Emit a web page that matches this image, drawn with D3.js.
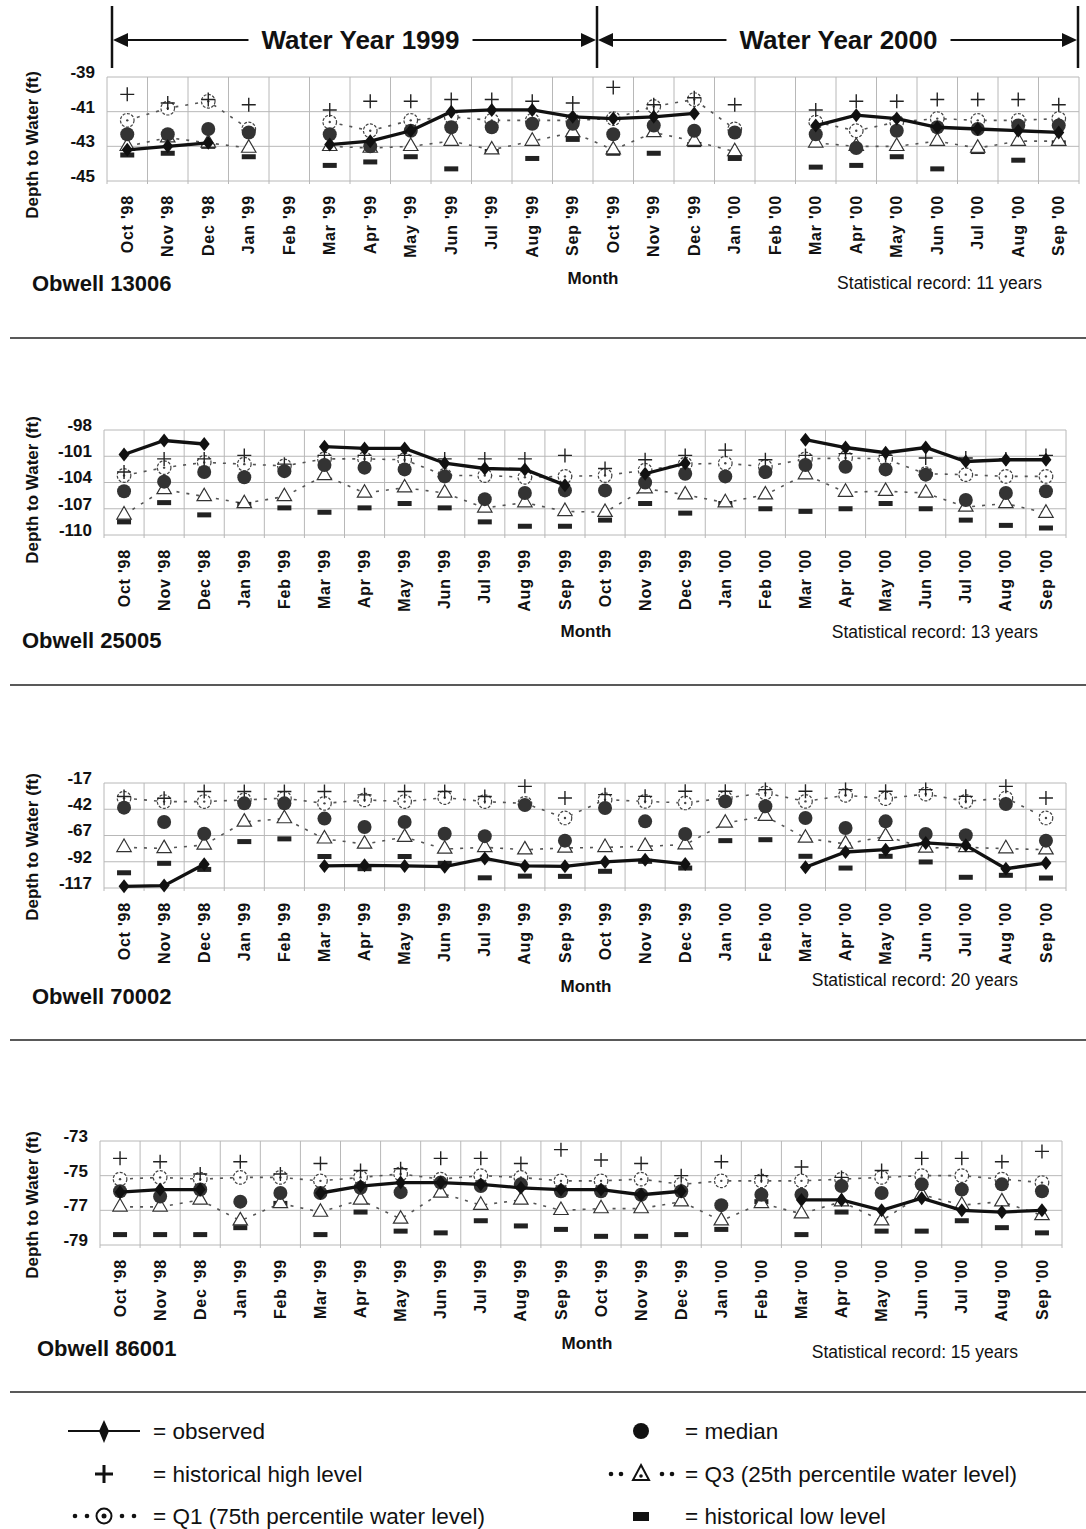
<!DOCTYPE html>
<html>
<head>
<meta charset="utf-8">
<script src="https://cdn.jsdelivr.net/npm/d3@7"></script>
<style>
  body { margin: 0; background: #fff; }
  svg text { font-family: "Liberation Sans", Arial, sans-serif; fill: #111; }
</style>
</head>
<body>
<svg id="chart" width="1086" height="1529"></svg>
<script>
var svgWidth = 1086;
var svgHeight = 1529;

var months = ["Oct '98", "Nov '98", "Dec '98", "Jan '99", "Feb '99", "Mar '99", "Apr '99", "May '99",
  "Jun '99", "Jul '99", "Aug '99", "Sep '99", "Oct '99", "Nov '99", "Dec '99", "Jan '00", "Feb '00",
  "Mar '00", "Apr '00", "May '00", "Jun '00", "Jul '00", "Aug '00", "Sep '00"];

var waterYears = ["Water Year 1999", "Water Year 2000"];

// Obwell 13006
var obs13006 = [-43.2, -43.0, -42.8, null, null, -42.9, -42.7, -42.1, -41.0, -40.9, -40.9, -41.3, -41.4, -41.3, -41.1, null, null, -41.8, -41.2, -41.4, -41.9, -42.0, -42.1, -42.2];
var high13006 = [-40.0, -40.5, -40.3, -40.6, null, -40.9, -40.4, -40.4, -40.3, -40.3, -40.4, -40.5, -39.6, -40.6, -40.2, -40.6, null, -40.9, -40.4, -40.4, -40.3, -40.3, -40.3, -40.6];
var q1_13006 = [-41.5, -40.8, -40.4, -42.0, null, -41.6, -42.1, -41.5, -41.3, -41.5, -41.5, -41.5, -41.4, -40.7, -40.3, -42.0, null, -41.6, -42.1, -41.6, -41.4, -41.5, -41.5, -41.4];
var med13006 = [-42.3, -42.3, -42.0, -42.2, null, -42.3, -43.0, -42.1, -41.9, -41.9, -41.7, -41.7, -42.3, -41.8, -42.1, -42.2, null, -42.3, -43.1, -42.1, -41.9, -42.0, -41.8, -41.8];
var q3_13006 = [-43.0, -42.5, -42.8, -43.1, null, -43.0, -43.1, -43.0, -42.7, -43.2, -42.7, -42.2, -43.2, -42.2, -42.7, -43.3, null, -42.8, -43.0, -43.0, -42.7, -43.1, -42.7, -42.7];
var low13006 = [-43.5, -43.4, -43.0, -43.6, null, -44.1, -43.9, -43.6, -44.3, -43.3, -43.7, -42.6, -43.4, -43.4, -42.9, -43.7, null, -44.2, -44.1, -43.6, -44.3, -43.3, -43.8, -42.8];

// Obwell 25005
var obs25005 = [-100.8, -99.2, -99.6, null, null, -99.9, -100.1, -100.1, -101.8, -102.4, -102.5, -104.3, null, -103.0, -101.8, null, null, -99.1, -100.0, -100.6, -100.0, -101.6, -101.4, -101.4];
var high25005 = [-102.8, -101.3, -101.3, -100.9, -101.9, -100.9, -100.9, -100.9, -101.3, -101.3, -101.3, -100.9, -102.4, -101.4, -100.9, -100.3, -101.4, -100.9, -100.7, -100.9, -101.2, -101.2, -101.3, -100.9];
var q1_25005 = [-103.2, -102.3, -101.7, -101.9, -102.1, -101.3, -101.3, -101.4, -103.2, -103.2, -103.4, -103.3, -103.2, -102.6, -101.9, -101.8, -102.2, -101.3, -101.2, -101.3, -103.0, -103.1, -103.3, -103.3];
var med25005 = [-105.0, -103.9, -102.8, -103.4, -102.7, -102.0, -102.3, -102.5, -103.3, -105.9, -105.2, -104.9, -104.9, -104.0, -103.0, -103.3, -102.8, -102.0, -102.2, -102.5, -103.1, -106.0, -105.2, -105.0];
var q3_25005 = [-107.7, -104.8, -105.6, -106.4, -105.6, -103.2, -105.2, -104.6, -105.2, -106.9, -106.3, -107.3, -107.4, -104.7, -105.4, -106.3, -105.4, -103.1, -105.1, -105.0, -105.2, -106.8, -106.4, -107.5];
var low25005 = [-108.5, -106.3, -107.7, -106.5, -106.9, -107.4, -106.9, -106.4, -106.9, -108.5, -109.0, -109.0, -108.3, -106.4, -107.5, -106.4, -107.0, -107.3, -107.0, -106.4, -107.0, -108.3, -108.9, -109.2];

// Obwell 70002
var obs70002 = [-115.4, -114.7, -94.4, null, null, -96.0, -95.4, -96.0, -96.7, -88.9, -96.0, -96.4, -92.2, -90.0, -94.1, null, null, -97.3, -82.7, -80.5, -74.1, -76.4, -98.6, -93.2];
var high70002 = [-29.9, -31.5, -25.1, -25.1, -25.1, -25.1, -28.3, -25.1, -25.1, -29.9, -20.2, -31.3, -28.1, -29.7, -24.9, -24.9, -23.3, -24.9, -23.3, -24.9, -23.3, -29.7, -20.2, -31.3];
var q1_70002 = [-31.5, -34.7, -34.7, -33.1, -31.5, -36.4, -33.1, -34.7, -30.9, -34.7, -36.4, -50.3, -32.9, -34.5, -36.0, -31.3, -26.5, -34.5, -28.7, -31.9, -27.5, -34.5, -31.3, -50.3];
var med70002 = [-40.5, -54.1, -65.4, -36.4, -36.4, -50.9, -58.9, -54.1, -65.4, -67.6, -38.0, -71.9, -40.8, -53.5, -65.6, -34.5, -39.2, -50.3, -59.9, -53.5, -65.6, -66.8, -37.0, -71.9];
var q3_70002 = [-78.3, -79.3, -76.0, -54.1, -50.9, -70.2, -75.1, -68.6, -79.9, -78.3, -80.5, -78.9, -78.3, -77.3, -75.7, -55.1, -48.7, -69.4, -75.1, -67.8, -78.9, -78.3, -79.5, -80.5];
var low70002 = [-102.5, -93.5, -99.3, -72.8, -70.2, -87.0, -98.6, -87.0, -93.5, -107.3, -105.7, -105.9, -101.1, -91.6, -98.0, -71.9, -71.0, -86.8, -98.0, -86.8, -92.2, -106.8, -104.9, -107.5];

// Obwell 86001
var obs86001 = [-75.95, -75.8, -75.8, null, null, -76.0, -75.6, -75.4, -75.4, -75.5, -75.7, -75.8, -75.8, -76.1, -75.9, null, null, -76.4, -76.4, -77.0, -76.3, -77.0, -77.1, -77.0];
var high86001 = [-74.0, -74.2, -74.9, -74.2, -74.9, -74.3, -74.7, -74.6, -74.0, -74.0, -74.3, -73.5, -74.1, -74.3, -75.0, -74.2, -75.0, -74.5, -75.1, -74.7, -74.0, -74.0, -74.2, -73.6];
var q1_86001 = [-75.2, -75.1, -75.2, -75.1, -75.1, -75.3, -75.1, -74.9, -75.2, -75.0, -75.1, -75.3, -75.3, -75.2, -75.5, -75.3, -75.3, -75.3, -75.2, -75.1, -75.0, -75.0, -75.2, -75.4];
var med86001 = [-75.9, -76.2, -75.8, -76.5, -76.0, -76.0, -75.7, -75.95, -75.4, -75.6, -75.5, -75.9, -75.9, -76.1, -75.9, -76.7, -76.1, -76.1, -75.6, -76.0, -75.5, -75.8, -75.5, -75.9];
var q3_86001 = [-76.8, -76.8, -76.4, -77.6, -76.6, -77.1, -76.4, -77.5, -76.0, -76.7, -76.4, -77.0, -76.9, -76.9, -76.5, -77.6, -76.6, -77.2, -76.5, -77.6, -76.1, -76.7, -76.5, -77.3];
var low86001 = [-78.4, -78.4, -78.4, -78.0, -76.6, -78.4, -77.1, -78.2, -78.3, -77.6, -77.9, -78.1, -78.5, -78.5, -78.4, -78.1, -76.5, -78.4, -77.1, -78.2, -78.2, -77.6, -78.0, -78.3];

var ticks13006 = [-39, -41, -43, -45];
var ticks25005 = [-98, -101, -104, -107, -110];
var ticks70002 = [-17, -42, -67, -92, -117];
var ticks86001 = [-73, -75, -77, -79];

// layout of the four panels
var panels = [
  { name: "Obwell 13006", record: "Statistical record: 11 years", ticks: ticks13006,
    obs: obs13006, high: high13006, q1: q1_13006, med: med13006, q3: q3_13006, low: low13006,
    top: 77, bottom: 181, left: 107, right: 1079,
    titleY: 145, monthX: 593, monthY: 284, nameX: 32, nameY: 291, recX: 1042, recY: 289 },
  { name: "Obwell 25005", record: "Statistical record: 13 years", ticks: ticks25005,
    obs: obs25005, high: high25005, q1: q1_25005, med: med25005, q3: q3_25005, low: low25005,
    top: 430, bottom: 535, left: 104, right: 1066,
    titleY: 490, monthX: 586, monthY: 637, nameX: 22, nameY: 648, recX: 1038, recY: 638 },
  { name: "Obwell 70002", record: "Statistical record: 20 years", ticks: ticks70002,
    obs: obs70002, high: high70002, q1: q1_70002, med: med70002, q3: q3_70002, low: low70002,
    top: 783, bottom: 888, left: 104, right: 1066,
    titleY: 847, monthX: 586, monthY: 992, nameX: 32, nameY: 1004, recX: 1018, recY: 986 },
  { name: "Obwell 86001", record: "Statistical record: 15 years", ticks: ticks86001,
    obs: obs86001, high: high86001, q1: q1_86001, med: med86001, q3: q3_86001, low: low86001,
    top: 1141, bottom: 1245, left: 100, right: 1062,
    titleY: 1205, monthX: 587, monthY: 1349, nameX: 37, nameY: 1356, recX: 1018, recY: 1358 }
];

var svg = d3.select("#chart");

function drawPanel(p) {
  var x = d3.scaleBand().domain(months).range([p.left, p.right]);
  var y = d3.scaleLinear()
    .domain([d3.min(p.ticks), d3.max(p.ticks)])
    .range([p.bottom, p.top]);
  var cx = function(i) { return x(months[i]) + x.bandwidth() / 2; };

  var g = svg.append("g");

  // grid
  g.append("g").selectAll("line")
    .data(p.ticks)
    .enter()
    .append("line")
    .attr("x1", p.left).attr("x2", p.right)
    .attr("y1", d => y(d)).attr("y2", d => y(d))
    .attr("stroke", "#b8b8b8").attr("stroke-width", 1);

  var edges = months.map(m => x(m)).concat([p.right]);
  g.append("g").selectAll("line")
    .data(edges)
    .enter()
    .append("line")
    .attr("x1", d => d).attr("x2", d => d)
    .attr("y1", p.top).attr("y2", p.bottom + 3)
    .attr("stroke", "#b8b8b8").attr("stroke-width", 1);

  // y axis
  var leftAxis = d3.axisLeft(y).tickValues(p.ticks).tickSize(0).tickPadding(12).tickFormat(d => String(d));
  var yAxis = g.append("g").attr("transform", `translate(${p.left},0)`).call(leftAxis);
  yAxis.select(".domain").remove();
  yAxis.selectAll("text")
    .attr("font-size", 17).attr("font-weight", "bold")
    .attr("y", -5);

  // x axis, rotated month labels
  var bottomAxis = d3.axisBottom(x).tickSize(0);
  var xAxis = g.append("g").attr("transform", `translate(0,${p.bottom})`).call(bottomAxis);
  xAxis.select(".domain").remove();
  xAxis.selectAll("text")
    .attr("transform", "rotate(-90)")
    .attr("x", -14).attr("y", 0).attr("dy", "0.35em")
    .attr("font-size", 16).attr("font-weight", "bold")
    .attr("letter-spacing", 0.8)
    .style("text-anchor", "end");

  // y title
  g.append("text")
    .attr("transform", `translate(38,${p.titleY}) rotate(-90)`)
    .attr("text-anchor", "middle")
    .attr("font-size", 17).attr("font-weight", "bold")
    .text("Depth to Water (ft)");

  g.append("text").attr("x", p.monthX).attr("y", p.monthY)
    .attr("text-anchor", "middle").attr("font-size", 17).attr("font-weight", "bold")
    .text("Month");
  g.append("text").attr("x", p.nameX).attr("y", p.nameY)
    .attr("font-size", 22).attr("font-weight", "bold")
    .text(p.name);
  g.append("text").attr("x", p.recX).attr("y", p.recY)
    .attr("text-anchor", "end").attr("font-size", 17.5)
    .text(p.record);

  // dotted quartile lines
  var dotted = d3.line()
    .defined(d => d != null)
    .x((d, i) => cx(i))
    .y(d => y(d));
  [p.q1, p.q3].forEach(function(series) {
    g.append("path")
      .attr("d", dotted(series))
      .attr("fill", "none")
      .attr("stroke", "#555")
      .attr("stroke-width", 1.6)
      .attr("stroke-dasharray", "3,7");
  });

  var idx = function(series) {
    return series.map((v, i) => i).filter(i => series[i] != null);
  };

  // historical low
  g.append("g").selectAll("rect")
    .data(idx(p.low))
    .enter()
    .append("rect")
    .attr("x", i => cx(i) - 7).attr("y", i => y(p.low[i]) - 2.5)
    .attr("width", 14).attr("height", 5)
    .attr("fill", "#222");

  // Q3 triangles
  g.append("g").selectAll("path")
    .data(idx(p.q3))
    .enter()
    .append("path")
    .attr("d", d3.symbol().type(d3.symbolTriangle).size(90))
    .attr("transform", i => `translate(${cx(i)},${y(p.q3[i])})`)
    .attr("fill", "#fff").attr("stroke", "#333").attr("stroke-width", 1.2);

  // Q1 circles
  var q1g = g.append("g").selectAll("g")
    .data(idx(p.q1))
    .enter()
    .append("g")
    .attr("transform", i => `translate(${cx(i)},${y(p.q1[i])})`);
  q1g.append("circle").attr("r", 6.8)
    .attr("fill", "#fff").attr("stroke", "#444").attr("stroke-width", 1.2)
    .attr("stroke-dasharray", "3,1.5");
  q1g.append("circle").attr("r", 1.2).attr("fill", "#444");

  // historical high
  g.append("g").selectAll("path")
    .data(idx(p.high))
    .enter()
    .append("path")
    .attr("d", "M-7,0H7M0,-7V7")
    .attr("transform", i => `translate(${cx(i)},${y(p.high[i])})`)
    .attr("stroke", "#222").attr("stroke-width", 1.4);

  // median
  g.append("g").selectAll("circle")
    .data(idx(p.med))
    .enter()
    .append("circle")
    .attr("cx", i => cx(i)).attr("cy", i => y(p.med[i]))
    .attr("r", 7)
    .attr("fill", "#333");

  // observed
  var obsLine = d3.line()
    .defined(d => d != null)
    .x((d, i) => cx(i))
    .y(d => y(d));
  g.append("path")
    .attr("d", obsLine(p.obs))
    .attr("fill", "none")
    .attr("stroke", "#111")
    .attr("stroke-width", 3.3);
  g.append("g").selectAll("path")
    .data(idx(p.obs))
    .enter()
    .append("path")
    .attr("d", "M0,-7L5.5,0L0,7L-5.5,0Z")
    .attr("transform", i => `translate(${cx(i)},${y(p.obs[i])})`)
    .attr("fill", "#111");
}

panels.forEach(drawPanel);

// separators between panels
svg.append("g").selectAll("line")
  .data([338, 685, 1040, 1392])
  .enter()
  .append("line")
  .attr("x1", 10).attr("x2", svgWidth)
  .attr("y1", d => d).attr("y2", d => d)
  .attr("stroke", "#222").attr("stroke-width", 1.6);

// header with water year arrows
var yearEdges = [112, 597, 1078];
var header = svg.append("g");
header.selectAll("line.bar")
  .data(yearEdges)
  .enter()
  .append("line")
  .attr("x1", d => d).attr("x2", d => d)
  .attr("y1", 6).attr("y2", 68)
  .attr("stroke", "#111").attr("stroke-width", 2.5);

waterYears.forEach(function(label, i) {
  var x0 = yearEdges[i], x1 = yearEdges[i + 1];
  var mid = (x0 + x1) / 2 + (i === 0 ? 6 : 1);
  var t = header.append("text")
    .attr("x", mid).attr("y", 40).attr("dy", "0.35em")
    .attr("text-anchor", "middle")
    .attr("font-size", 26).attr("font-weight", "bold")
    .text(label);
  var w = t.node().getComputedTextLength();
  header.append("line").attr("x1", x0 + 4).attr("x2", mid - w / 2 - 13)
    .attr("y1", 40).attr("y2", 40).attr("stroke", "#111").attr("stroke-width", 2);
  header.append("line").attr("x1", mid + w / 2 + 13).attr("x2", x1 - 4)
    .attr("y1", 40).attr("y2", 40).attr("stroke", "#111").attr("stroke-width", 2);
  header.append("path")
    .attr("d", `M${x0 + 1},40L${x0 + 16},33L${x0 + 16},47Z`).attr("fill", "#111");
  header.append("path")
    .attr("d", `M${x1 - 1},40L${x1 - 16},33L${x1 - 16},47Z`).attr("fill", "#111");
});

// legend
var legend = svg.append("g");
var legendText = [
  { x: 153, y: 1431, text: "= observed" },
  { x: 685, y: 1431, text: "= median" },
  { x: 153, y: 1474, text: "= historical high level" },
  { x: 685, y: 1474, text: "= Q3 (25th percentile water level)" },
  { x: 153, y: 1516, text: "= Q1 (75th percentile water level)" },
  { x: 685, y: 1516, text: "= historical low level" }
];
legend.selectAll("text")
  .data(legendText)
  .enter()
  .append("text")
  .attr("x", d => d.x).attr("y", d => d.y).attr("dy", "0.35em")
  .attr("font-size", 22.5)
  .text(d => d.text);

legend.append("line").attr("x1", 68).attr("x2", 140).attr("y1", 1431).attr("y2", 1431)
  .attr("stroke", "#111").attr("stroke-width", 2);
legend.append("path").attr("d", "M104,1420L109,1431L104,1443L99,1431Z").attr("fill", "#111");
legend.append("circle").attr("cx", 641).attr("cy", 1431).attr("r", 8).attr("fill", "#111");
legend.append("path").attr("d", "M95,1474H113M104,1465V1483").attr("stroke", "#111").attr("stroke-width", 3);
legend.selectAll("circle.dot")
  .data([[611, 1474], [621, 1474], [662, 1474], [672, 1474], [75, 1516], [87, 1516], [122, 1516], [134, 1516]])
  .enter()
  .append("circle")
  .attr("cx", d => d[0]).attr("cy", d => d[1]).attr("r", 2.3).attr("fill", "#111");
legend.append("path").attr("d", "M641,1465L649,1480L633,1480Z")
  .attr("fill", "#fff").attr("stroke", "#111").attr("stroke-width", 2);
legend.append("circle").attr("cx", 641).attr("cy", 1476).attr("r", 1.8).attr("fill", "#111");
legend.append("circle").attr("cx", 104).attr("cy", 1516).attr("r", 7.5)
  .attr("fill", "#fff").attr("stroke", "#111").attr("stroke-width", 2);
legend.append("circle").attr("cx", 104).attr("cy", 1516).attr("r", 2.5).attr("fill", "#111");
legend.append("rect").attr("x", 633).attr("y", 1512).attr("width", 16).attr("height", 9).attr("fill", "#111");
</script>
</body>
</html>
